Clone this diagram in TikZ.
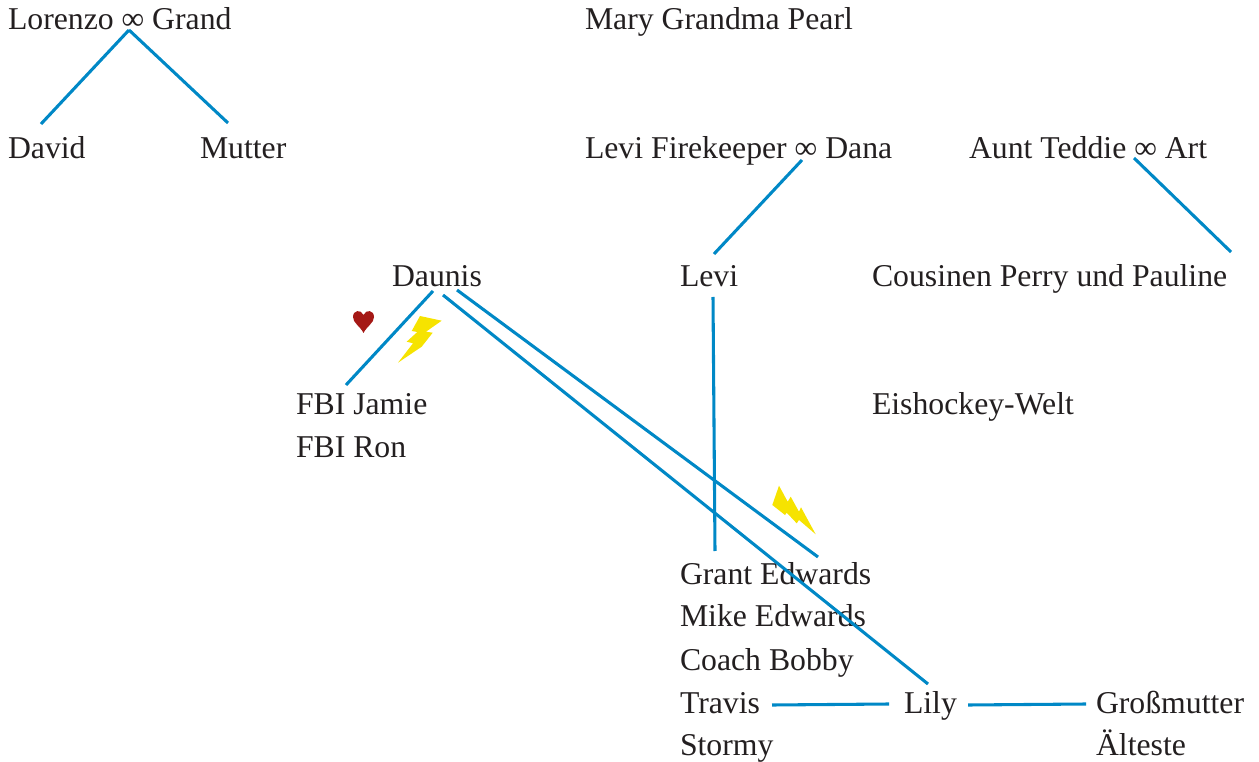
\documentclass[tikz,border=0pt]{standalone}
\usepackage{fontspec}
\setmainfont{Liberation Serif}
\definecolor{ink}{HTML}{231F20}
\definecolor{linkblue}{HTML}{0088C6}
\definecolor{bolt}{HTML}{F6E300}
\definecolor{heartred}{HTML}{A51916}
\tikzset{
  lab/.style={anchor=base west,inner sep=0pt,outer sep=0pt,text=ink,font=\fontsize{23.8}{28}\selectfont},
  link/.style={draw=linkblue,line width=2.3pt},
}
\begin{document}
\begin{tikzpicture}[x=0.75pt,y=-0.75pt]
\useasboundingbox (0,0) rectangle (1259,762);
\node[lab] (lorenzo) at (8,30) {Lorenzo ∞ Grand};
\node[lab] (mary) at (585,30) {Mary Grandma Pearl};
\node[lab] (david) at (8,159) {David};
\node[lab] (mutter) at (200,159) {Mutter};
\node[lab] (firekeeper) at (585,159) {Levi Firekeeper ∞ Dana};
\node[lab] (teddie) at (969,159) {Aunt Teddie ∞ Art};
\node[lab] (daunis) at (392,287) {Daunis};
\node[lab] (levi) at (680,287) {Levi};
\node[lab] (cousins) at (872,287) {Cousinen Perry und Pauline};
\node[lab] (jamie) at (296,415) {FBI Jamie};
\node[lab] (eishockey) at (872,415) {Eishockey-Welt};
\node[lab] (ron) at (296,457) {FBI Ron};
\node[lab] (grant) at (680,584) {Grant Edwards};
\node[lab] (mike) at (680,626) {Mike Edwards};
\node[lab] (bobby) at (680,670) {Coach Bobby};
\node[lab] (travis) at (680,713) {Travis};
\node[lab] (lily) at (904,713) {Lily};
\node[lab] (gross) at (1096,713) {Großmutter};
\node[lab] (stormy) at (680,755) {Stormy};
\node[lab] (aelteste) at (1096,755) {Älteste};
% connectors, each end offset from its node's baseline origin
\draw[link] ([shift={(121,0)}]lorenzo.base west) -- ([shift={(33,-35)}]david.base west);
\draw[link] ([shift={(121,0)}]lorenzo.base west) -- ([shift={(28,-36)}]mutter.base west);
\draw[link] ([shift={(217,1)}]firekeeper.base west) -- ([shift={(34,-33)}]levi.base west);
\draw[link] ([shift={(165,-1)}]teddie.base west) -- ([shift={(359,-35)}]cousins.base west);
\draw[link] ([shift={(41,4)}]daunis.base west) -- ([shift={(50,-30)}]jamie.base west);
\draw[link] ([shift={(51,8)}]daunis.base west) -- ([shift={(24,-29)}]lily.base west);
\draw[link] ([shift={(65,3)}]daunis.base west) -- ([shift={(138,-27)}]grant.base west);
\draw[link] ([shift={(33,10)}]levi.base west) -- ([shift={(35,-33)}]grant.base west);
\draw[link] ([shift={(92,-8)}]travis.base west) -- ([shift={(-15,-9)}]lily.base west);
\draw[link] ([shift={(64,-8)}]lily.base west) -- ([shift={(-10,-9)}]gross.base west);
% heart
\fill[heartred] (363.5,333) .. controls (360,326) and (353,323) .. (353,317) .. controls (353,310) and (361,309) .. (363.5,315) .. controls (366,309) and (374,310) .. (374,317) .. controls (374,323) and (367,326) .. (363.5,333) -- cycle;
% bolts
\fill[bolt] (420,316) -- (441.7,320.7) -- (426,331.7) -- (432.7,332.7) -- (421.7,346.7) -- (398,362.7) -- (413,343.3) -- (406.7,341.7) -- (417.3,332) -- (411.7,331) -- cycle;
\fill[bolt] (779,485.7) -- (787.7,501.7) -- (790.7,496.7) -- (799,511.7) -- (801,507.3) -- (815.7,534.3) -- (799,520) -- (796.7,523.3) -- (786.7,512.7) -- (785,515) -- (772.3,505) -- cycle;
\end{tikzpicture}
\end{document}
